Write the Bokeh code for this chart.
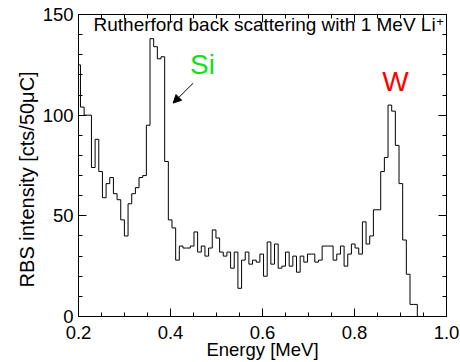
import numpy as np
from bokeh.plotting import figure
from bokeh.models import (Range1d, LinearAxis, Label, Arrow, NormalHead,
                          FixedTicker, CustomJSTickFormatter, PrintfTickFormatter)
from bokeh.embed import file_html
from bokeh.resources import INLINE

# ---- data: RBS counts per energy bin ----
counts = [125, 104, 100, 100, 74, 88, 72, 59, 66, 69,
          61, 58, 48, 40, 56, 61, 64, 69, 70, 95,
          138, 134, 128, 129, 77, 48, 44, 28, 35, 34,
          34, 35, 42, 32, 35, 30, 34, 43, 39, 32,
          30, 32, 24, 32, 14, 28, 32, 26, 28, 27,
          31, 20, 37, 26, 36, 24, 25, 32, 25, 30,
          22, 30, 27, 31, 31, 27, 28, 35, 35, 35,
          28, 31, 35, 25, 31, 36, 34, 31, 47, 36,
          40, 53, 53, 72, 79, 105, 102, 85, 66, 38,
          21, 6, 6]
energy_start = 0.1963   # MeV, lower edge of first bin
bin_width = 0.00796     # MeV

x_ticks = [0.2, 0.4, 0.6, 0.8, 1.0]
x_minor = [0.2, 0.25, 0.3, 0.35, 0.4, 0.45, 0.5, 0.55, 0.6, 0.65,
           0.7, 0.75, 0.8, 0.85, 0.9, 0.95, 1.0]
y_ticks = [0, 50, 100, 150]
y_minor = [0, 10, 20, 30, 40, 50, 60, 70, 80, 90, 100, 110, 120, 130, 140, 150]

title_text = "Rutherford back scattering with 1 MeV Li"
x_label = "Energy [MeV]"
y_label = "RBS intensity [cts/50\u03bcC]"

edges = energy_start + bin_width * np.arange(len(counts) + 1)
ys = list(counts) + [0]

FONT = "Liberation Sans"

p = figure(width=460, height=362, x_range=Range1d(0.2, 1.0), y_range=Range1d(0, 150),
           output_backend="svg", toolbar_location=None,
           min_border_left=78, min_border_right=14, min_border_top=14, min_border_bottom=46)
p.background_fill_color = "white"
p.border_fill_color = "white"
p.outline_line_color = "black"
p.outline_line_width = 1
p.xgrid.visible = False
p.ygrid.visible = False

p.step(edges, ys, mode="after", line_color="black", line_width=1)

def style_axis(ax):
    ax.major_tick_out = 0
    ax.major_tick_in = 8
    ax.minor_tick_out = 0
    ax.minor_tick_in = 4
    ax.axis_line_color = "black"
    ax.major_tick_line_color = "black"
    ax.minor_tick_line_color = "black"
    ax.major_label_text_font = FONT
    ax.major_label_text_font_size = "18.5px"
    ax.major_label_text_color = "black"

xax = p.xaxis[0]
yax = p.yaxis[0]
style_axis(xax)
style_axis(yax)
xax.ticker = FixedTicker(ticks=x_ticks, minor_ticks=x_minor)
yax.ticker = FixedTicker(ticks=y_ticks, minor_ticks=y_minor)
xax.formatter = PrintfTickFormatter(format="%.1f")
xax.major_label_standoff = 9
yax.major_label_standoff = 5

xax.axis_label = x_label
xax.axis_label_text_font = FONT
xax.axis_label_text_font_size = "18.5px"
xax.axis_label_text_font_style = "normal"
xax.axis_label_text_color = "black"
xax.axis_label_standoff = -3

yax.axis_label = y_label + "\u00a0" * 5
yax.axis_label_text_font = FONT
yax.axis_label_text_font_size = "20px"
yax.axis_label_text_font_style = "normal"
yax.axis_label_text_color = "black"
yax.axis_label_standoff = 2

empty = CustomJSTickFormatter(code="return ''")
top = LinearAxis(ticker=FixedTicker(ticks=x_ticks, minor_ticks=x_minor), formatter=empty)
right = LinearAxis(ticker=FixedTicker(ticks=y_ticks, minor_ticks=y_minor), formatter=empty)
for ax in (top, right):
    style_axis(ax)
    ax.major_label_standoff = 0
    ax.major_label_text_font_size = "1px"
p.add_layout(top, "above")
p.add_layout(right, "right")

def lab(x, y, text, size, color="black", align="left"):
    p.add_layout(Label(x=x, y=y, text=text, text_align=align,
                       text_baseline="middle", text_font=FONT,
                       text_font_size=size, text_color=color))

# in-plot title
lab(0.2326, 145.2, title_text, "19px")
lab(0.9775, 146.3, "+", "13px")

# element labels
lab(0.4425, 125.3, "Si", "28px", color="#11e011")
lab(0.8602, 116.6, "W", "28px", color="#ff0000")

p.add_layout(Arrow(x_start=0.4493, y_start=115.9, x_end=0.4058, y_end=106.0,
                   line_color="black", line_width=1,
                   end=NormalHead(size=8, fill_color="black", line_color="black")))

open("out.html", "w").write(file_html(p, INLINE))
